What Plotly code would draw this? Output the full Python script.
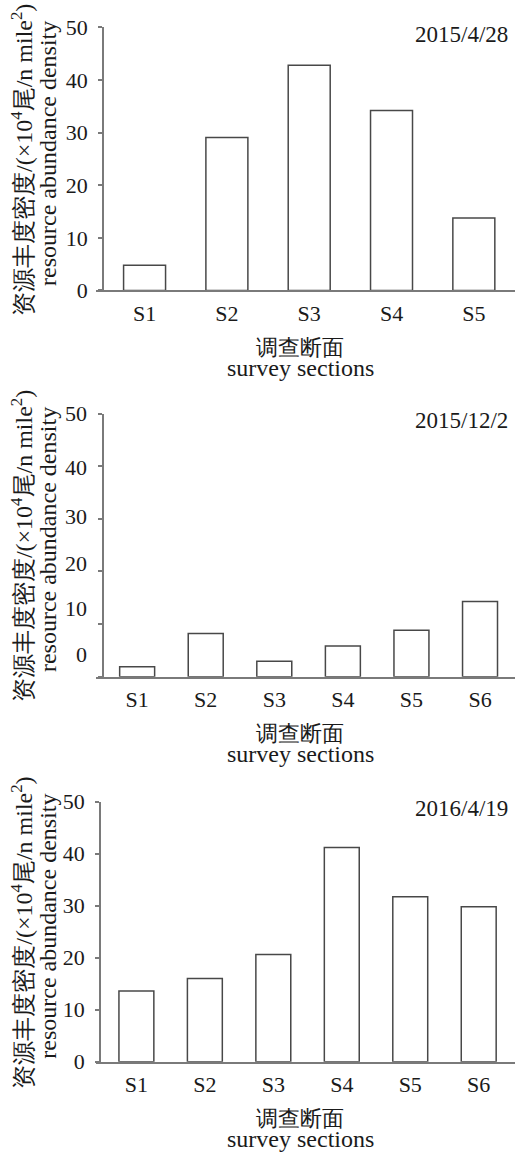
import plotly.graph_objects as go

# Survey data: resource abundance density (x10^4 ind / n mile^2) per section
dates = ["2015/4/28", "2015/12/2", "2016/4/19"]
sections_a = ["S1", "S2", "S3", "S4", "S5"]
sections_b = ["S1", "S2", "S3", "S4", "S5", "S6"]
density_2015_04 = [4.8, 29.1, 42.8, 34.2, 13.8]
density_2015_12 = [1.9, 8.2, 2.9, 5.8, 8.8, 14.3]
density_2016_04 = [13.6, 16.0, 20.6, 41.2, 31.7, 29.8]
y_ticks = [0, 10, 20, 30, 40, 50]

W, H = 517, 1154
FONT = "Liberation Serif, serif"
TXT = "#1a1a1a"
AXC = "#7a7a7a"
BARC = "#484848"

# panel geometry in pixels: plot top/bottom, y-axis x position, category range
panels = [
    dict(top=28, bottom=291, yx=103, xr=[-0.59, 4.5], cats=sections_a, vals=density_2015_04),
    dict(top=414, bottom=677, yx=103, xr=[-0.60, 5.51], cats=sections_b, vals=density_2015_12),
    dict(top=802, bottom=1062, yx=100, xr=[-0.59, 5.53], cats=sections_b, vals=density_2016_04),
]
X_LEFT, X_RIGHT = 96, 515

# label placement (in axis units) for the middle panel's value axis, drawn as text
mid_label_y = [4.2, 13.0, 21.5, 30.5, 39.8, 50.1]

# vertical layout scale: page pixels -> paper fraction
V_OFF, V_SCALE = 12.6, 0.978


def py(v):
    return 1 - ((v - V_OFF) / V_SCALE) / H


def px(v):
    return v / W


fig = go.Figure()
annotations = []
layout = dict(
    width=W, height=H, margin=dict(l=0, r=0, t=0, b=0),
    paper_bgcolor="white", plot_bgcolor="white", showlegend=False,
    font=dict(family=FONT, color=TXT, size=22),
)

for i, p in enumerate(panels, start=1):
    sfx = "" if i == 1 else str(i)
    fig.add_trace(go.Bar(
        x=p["cats"], y=p["vals"], width=0.51,
        marker=dict(color="white", line=dict(color=BARC, width=1.5)),
        xaxis="x" + sfx, yaxis="y" + sfx, hoverinfo="skip",
    ))
    layout["xaxis" + sfx] = dict(
        domain=[px(X_LEFT), px(X_RIGHT)], anchor="y" + sfx, range=p["xr"],
        type="category", showline=True, linecolor=AXC, linewidth=1.5,
        ticks="", showgrid=False, zeroline=False, fixedrange=True,
        tickfont=dict(size=22, family=FONT, color=TXT), ticklabelstandoff=2,
    )
    show_lbl = i != 2
    layout["yaxis" + sfx] = dict(
        domain=[py(p["bottom"]), py(p["top"])], anchor="free", position=px(p["yx"]),
        range=[0, 50], tickvals=y_ticks, showticklabels=show_lbl,
        showline=True, linecolor=AXC, linewidth=1.5, ticks="outside", ticklen=4,
        tickcolor=AXC, tickwidth=1.5, showgrid=False, zeroline=False,
        tickfont=dict(size=22, family=FONT, color=TXT), ticklabelstandoff=6,
        fixedrange=True,
    )
    if not show_lbl:
        unit = (p["bottom"] - p["top"]) / 50.0
        for t, yv in zip(y_ticks, mid_label_y):
            annotations.append(dict(
                x=px(89), xref="paper", y=py(p["bottom"] - yv * unit), yref="paper",
                xanchor="right", yanchor="middle", showarrow=False,
                text=str(t), font=dict(size=22, family=FONT, color=TXT),
            ))

    mid = (p["top"] + p["bottom"]) / 2
    # y-axis title, two lines
    annotations.append(dict(
        x=px(22), y=py(mid + 1), xref="paper", yref="paper",
        xanchor="center", yanchor="middle", textangle=-90, showarrow=False,
        text="资源丰度密度/(×10<sup>4</sup>尾/n mile<sup>2</sup>)",
        font=dict(size=24, family=FONT, color=TXT),
    ))
    annotations.append(dict(
        x=px(48), y=py(mid - 5), xref="paper", yref="paper",
        xanchor="center", yanchor="middle", textangle=-90, showarrow=False,
        text="resource abundance density",
        font=dict(size=24, family=FONT, color=TXT),
    ))
    # x-axis title, two lines
    annotations.append(dict(
        x=px(300), y=py(p["bottom"] + 57), xref="paper", yref="paper",
        xanchor="center", yanchor="middle", showarrow=False,
        text="调查断面", font=dict(size=22, family=FONT, color=TXT),
    ))
    annotations.append(dict(
        x=px(300), y=py(p["bottom"] + 77), xref="paper", yref="paper",
        xanchor="center", yanchor="middle", showarrow=False,
        text="survey sections", font=dict(size=24, family=FONT, color=TXT),
    ))
    # sampling date
    annotations.append(dict(
        x=px(510), y=py(p["top"] + 7), xref="paper", yref="paper",
        xanchor="right", yanchor="middle", showarrow=False,
        text=dates[i - 1], font=dict(size=23, family=FONT, color=TXT),
    ))

layout["annotations"] = annotations
fig.update_layout(**layout)
fig.write_html("out.html")
